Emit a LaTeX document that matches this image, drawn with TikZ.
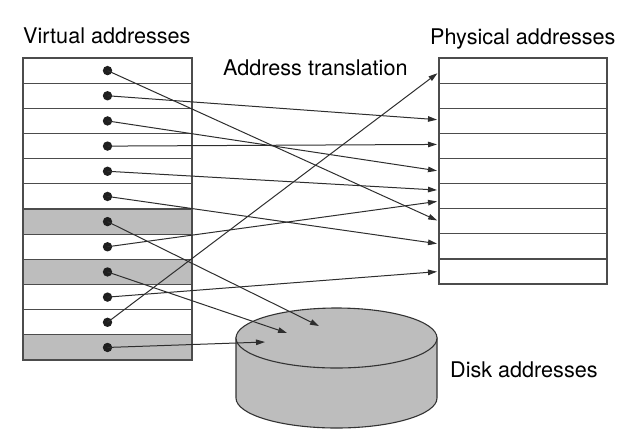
\documentclass[tikz,border=0pt]{standalone}
\usepackage{fontspec}
\setmainfont{TeX Gyre Heros}
\usetikzlibrary{arrows.meta}
\begin{document}
\begin{tikzpicture}[x=1bp,y=-1bp,
  vrow/.style={draw=black!70, line width=1.2bp, minimum width=169bp, minimum height=25.17bp, inner sep=0pt, outer sep=0pt},
  prow/.style={draw=black!70, line width=1.2bp, minimum width=168bp, minimum height=25.12bp, inner sep=0pt, outer sep=0pt},
  dot/.style={circle, fill=black!88, inner sep=0pt, minimum size=9.4bp},
  link/.style={draw=black!82, line width=1bp, -{Triangle[length=9bp,width=5.5bp]}},
  tophys/.style={link, shorten >=2bp},
  lbl/.style={anchor=base west, inner sep=0pt, font=\fontsize{21.6bp}{26bp}\selectfont},
  disk/.style={fill=black!26, draw=black!80, line width=1.1bp}
]
\useasboundingbox (0,0) rectangle (621,430);

% labels
\node[lbl] (lv) at (23,43) {Virtual addresses};
\node[lbl] (lp) at (430,44) {Physical addresses};
\node[lbl] (lt) at (223,75) {Address translation};
\node[lbl] (ld) at (450,377) {Disk addresses};

% virtual table
\foreach \i/\f in {0/white,1/white,2/white,3/white,4/white,5/white,6/black!26,7/white,8/black!26,9/white,10/white,11/black!26}{
  \node[vrow, fill=\f] (v\i) at (107.5,{58+25.17*(\i+0.5)}) {};
}
% physical table
\foreach \i in {0,...,8}{
  \node[prow] (p\i) at (523,{58+25.12*(\i+0.5)}) {};
}
% dots
\foreach \i in {0,...,11}{
  \node[dot] (d\i) at (v\i.center) {};
}

% disk
\filldraw[disk] (236,338) -- (236,398) arc[start angle=180,end angle=360,x radius=100.5bp,y radius=30bp] -- (437,338) -- cycle;
\filldraw[disk] (336.5,338) ellipse[x radius=100.5bp,y radius=30bp];
\coordinate (k6) at (319,326);
\coordinate (k8) at (287,333);
\coordinate (k11) at (265,342);

% translations
\draw[tophys] (d0.center) -- (p6.west);
\draw[tophys] (d1.center) -- ([yshift=1bp]p2.west);
\draw[tophys] (d2.center) -- (p4.west);
\draw[tophys] (d3.center) -- ([yshift=1.5bp]p3.west);
\draw[tophys] (d4.center) -- ([yshift=6bp]p5.west);
\draw[tophys] (d5.center) -- ([yshift=2.5bp]p7.west);
\draw[tophys] (d7.center) -- ([yshift=-5bp]p5.west);
\draw[tophys] (d9.center) -- (p8.west);
\draw[tophys] (d10.center) -- ([yshift=-1.5bp]p0.west);
\draw[link] (d6.center) -- (k6);
\draw[link] (d8.center) -- (k8);
\draw[link] (d11.center) -- (k11);
\end{tikzpicture}
\end{document}
